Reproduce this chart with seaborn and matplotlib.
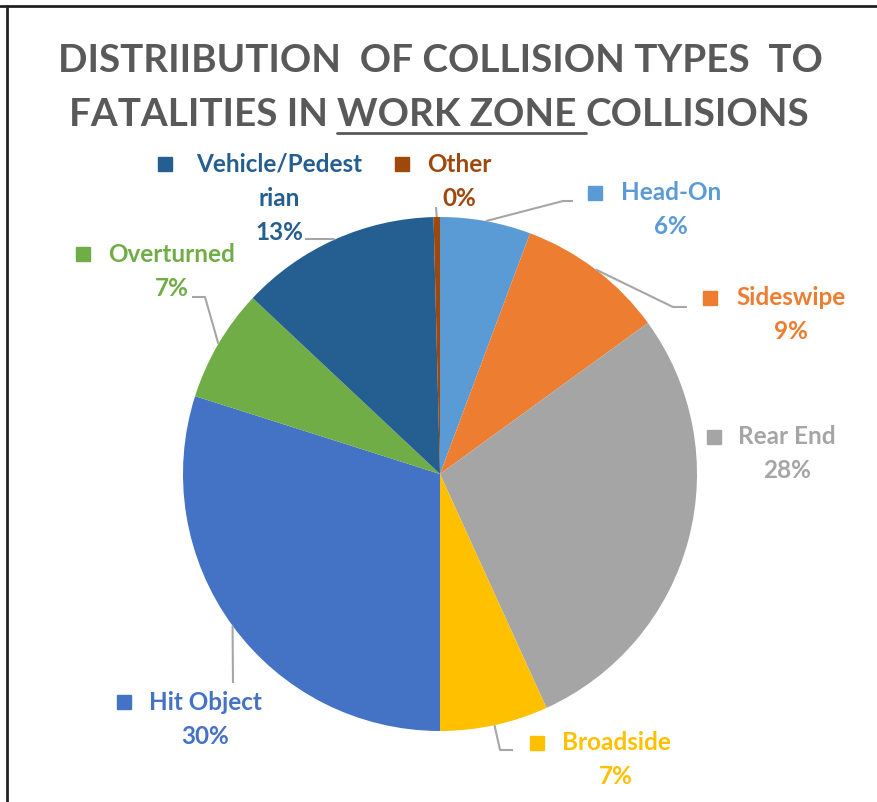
import numpy as np
import matplotlib as mpl
mpl.use("Agg")
import matplotlib.pyplot as plt
import seaborn as sns

# values (clockwise from 12 o'clock)
categories = ["Head-On", "Sideswipe", "Rear End", "Broadside",
              "Hit Object", "Overturned", "Vehicle/Pedestrian", "Other"]
shares = [5.7, 9.3, 28.2, 6.8, 29.9, 7.1, 12.6, 0.4]
pct_labels = ["6%", "9%", "28%", "7%", "30%", "7%", "13%", "0%"]
# how the labels are wrapped on the chart
name_lines = [["Head-On"], ["Sideswipe"], ["Rear End"], ["Broadside"],
              ["Hit Object"], ["Overturned"], ["Vehicle/Pedest", "rian"], ["Other"]]
colors = ["#5B9BD5", "#ED7D31", "#A5A5A5", "#FFC000",
          "#4472C4", "#70AD47", "#255E91", "#9E480E"]

W, H = 878, 802
FONT = ["Lato", "DejaVu Sans"]

sns.set_theme(style="white")
plt.rcParams["font.family"] = FONT

fig = plt.figure(figsize=(W / 100, H / 100), dpi=100)
ax = fig.add_axes([0, 0, 1, 1])


def py(y):
    # pixel row (from top) -> data y
    return H - y


cx, cy, r = 440, py(474), 257
wedges, _ = ax.pie(shares, colors=colors, startangle=90, counterclock=False,
                   center=(cx, cy), radius=r,
                   wedgeprops=dict(linewidth=0))
ax.set_xlim(0, W)
ax.set_ylim(0, H)
ax.axis("off")

# label layout: text centre x, first line y, key square x (pixels)
label_pos = {
    "Head-On": (671, 193, 595),
    "Sideswipe": (791, 298, 710),
    "Rear End": (787, 437, 714),
    "Broadside": (616, 743, 537),
    "Hit Object": (205, 702, 124),
    "Overturned": (172, 254, 83),
    "Vehicle/Pedestrian": (279, 164, 165),
    "Other": (459, 164, 402),
}
# leader line elbows (pixels), drawn from the slice edge
leaders = {
    "Head-On": [(563, 201), (573, 201)],
    "Sideswipe": [(673, 307), (687, 307)],
    "Broadside": [(500, 750), (513, 750)],
    "Hit Object": [(233, 683)],
    "Overturned": [(205, 297), (192, 297)],
    "Vehicle/Pedestrian": [(333, 239), (305, 239)],
    "Other": [(436, 207)],
}

line_h = 34
for w, cat, names, pct, col in zip(wedges, categories, name_lines, pct_labels, colors):
    tx, ty, sx = label_pos[cat]
    ax.plot([sx], [py(ty)], marker="s", markersize=10.5, color=col, linestyle="none")
    for i, s in enumerate(names + [pct]):
        ax.text(tx, py(ty + i * line_h), s, ha="center", va="center",
                fontsize=17.5, fontweight="bold", color=col)
    if cat in leaders:
        mid = np.deg2rad((w.theta1 + w.theta2) / 2)
        start = (cx + r * np.cos(mid), cy + r * np.sin(mid))
        pts = [start] + [(x, py(y)) for x, y in leaders[cat]]
        xs, ys = zip(*pts)
        ax.plot(xs, ys, color="#A6A6A6", linewidth=1.5, solid_capstyle="butt")

# title, second line has "WORK ZONE " underlined
title_kw = dict(fontsize=27.8, fontweight="bold", color="#595959", va="center")
ax.text(W / 2 + 1, py(61), "DISTRIIBUTION  OF COLLISION TYPES  TO", ha="center", **title_kw)
parts = ["FATALITIES IN ", "WORK ZONE ", "COLLISIONS"]
fig.canvas.draw()
renderer = fig.canvas.get_renderer()
tmp = ax.text(0, 0, "".join(parts), **title_kw)
total_w = tmp.get_window_extent(renderer).width
tmp.remove()


def width_of(s):
    t = ax.text(0, 0, s.replace(" ", "\u00a0"), **title_kw)
    wd = t.get_window_extent(renderer).width
    t.remove()
    return wd


x0 = W / 2 - total_w / 2
w_pre = width_of(parts[0])
w_mid = width_of(parts[1])
ax.text(x0, py(114), parts[0], ha="left", **title_kw)
ax.text(x0 + w_pre, py(114), parts[1], ha="left", **title_kw)
ax.text(x0 + w_pre + w_mid, py(114), parts[2], ha="left", **title_kw)
ax.plot([x0 + w_pre, x0 + w_pre + w_mid], [py(133), py(133)],
        color="#595959", linewidth=2)

# frame of the original screenshot (top and left edges)
fig.add_artist(plt.Line2D([0, 1], [1 - 6 / H, 1 - 6 / H], color="#222222", linewidth=2))
fig.add_artist(plt.Line2D([7 / W, 7 / W], [0, 1 - 6 / H], color="#222222", linewidth=2))

fig.savefig("out.png", dpi=100, facecolor="white")
